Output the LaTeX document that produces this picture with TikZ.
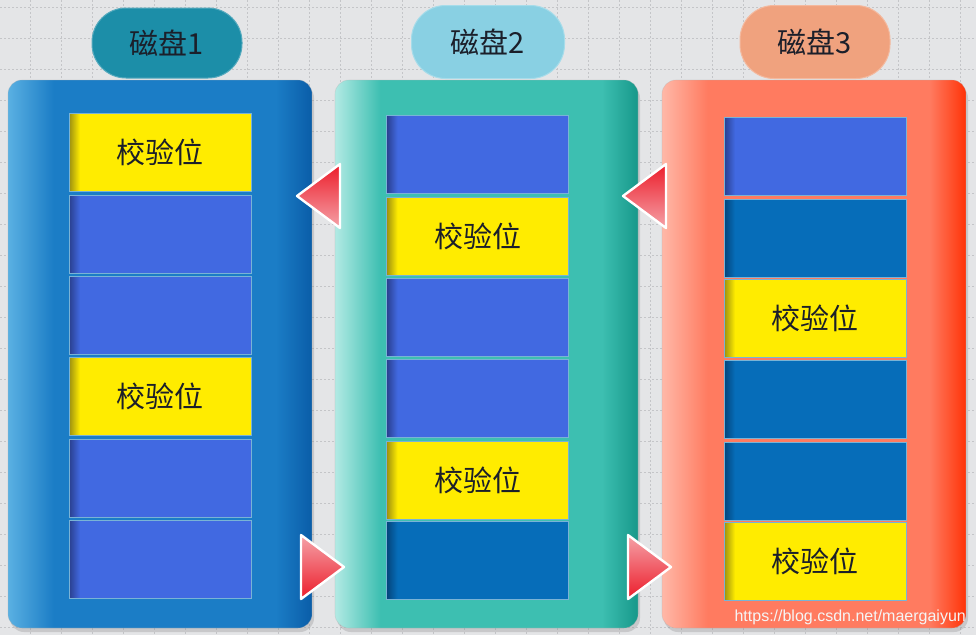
\documentclass[tikz,border=0pt]{standalone}
\usepackage{fontspec}
\newfontfamily\cjk{Noto Sans CJK SC}
\setsansfont{Liberation Sans}
\usetikzlibrary{shadows}
\definecolor{bggrey}{HTML}{E4E5E7}
\definecolor{gridc}{HTML}{C4C5C8}
\definecolor{royal}{HTML}{4169E1}\definecolor{royalD}{HTML}{2A3F8E}
\definecolor{dblue}{HTML}{066DB9}\definecolor{dblueD}{HTML}{04447A}
\definecolor{yel}{HTML}{FFEC00}\definecolor{yelD}{HTML}{9C8F10}
\definecolor{cellbd}{HTML}{79B3D6}
\definecolor{aL}{HTML}{5AB0E2}\definecolor{aM}{HTML}{1B7DC6}\definecolor{aR}{HTML}{0A5DA8}
\definecolor{bL}{HTML}{B2EAE4}\definecolor{bM}{HTML}{3DBFB1}\definecolor{bR}{HTML}{17988A}
\definecolor{cL}{HTML}{FFB8A8}\definecolor{cM}{HTML}{FF7B60}\definecolor{cR}{HTML}{FF3308}
\definecolor{pillA}{HTML}{1C8EA8}\definecolor{pillB}{HTML}{89D0E3}\definecolor{pillC}{HTML}{F0A27E}
\definecolor{txt}{HTML}{1B1F2A}
\definecolor{tred}{HTML}{EC1C2A}\definecolor{tpink}{HTML}{F5A2A8}
\pgfdeclarehorizontalshading{panA}{100bp}{color(0bp)=(aL); color(25bp)=(aL); color(32.5bp)=(aM); color(69bp)=(aM); color(75bp)=(aR); color(100bp)=(aR)}
\pgfdeclarehorizontalshading{panB}{100bp}{color(0bp)=(bL); color(25bp)=(bL); color(32.5bp)=(bM); color(69bp)=(bM); color(75bp)=(bR); color(100bp)=(bR)}
\pgfdeclarehorizontalshading{panC}{100bp}{color(0bp)=(cL); color(25bp)=(cL); color(32.5bp)=(cM); color(69bp)=(cM); color(75bp)=(cR); color(100bp)=(cR)}
\pgfdeclarehorizontalshading{cellR}{100bp}{color(0bp)=(royalD); color(25bp)=(royalD); color(28bp)=(royal); color(100bp)=(royal)}
\pgfdeclarehorizontalshading{cellD}{100bp}{color(0bp)=(dblueD); color(25bp)=(dblueD); color(28bp)=(dblue); color(100bp)=(dblue)}
\pgfdeclarehorizontalshading{cellY}{100bp}{color(0bp)=(yelD); color(25bp)=(yelD); color(28bp)=(yel); color(100bp)=(yel)}
\tikzset{
  panelbox/.style={rounded corners=14pt, shade, shading=#1, draw=white!40!gray, draw opacity=0.35, line width=0.6pt,
    drop shadow={opacity=0.28, shadow xshift=2pt, shadow yshift=-4pt},
    minimum width=304pt, minimum height=548pt},
  cellbox/.style={draw=cellbd, line width=1pt, shade, shading=#1, minimum width=182pt, minimum height=78pt,
    inner sep=0pt, font=\cjk\fontsize{29}{32}\selectfont, text=txt},
  pillbox/.style={rounded corners=34pt, fill=#1, draw=#1!75!white, line width=1pt,
    font=\cjk\fontsize{29}{32}\selectfont, text=txt, inner sep=0pt},
  tri/.style={draw=white, line width=2.4pt, line join=round}
}
\begin{document}
\begin{tikzpicture}[x=1pt,y=-1pt]
\useasboundingbox (0,0) rectangle (976,635);
\fill[bggrey] (0,0) rectangle (976,635);
\foreach \gx in {30,61,...,976} \draw[gridc, line width=0.6pt, dash pattern=on 2pt off 2pt] (\gx,0) -- (\gx,635);
\foreach \gy in {7,38,...,635} \draw[gridc, line width=0.6pt, dash pattern=on 2pt off 2pt] (0,\gy) -- (976,\gy);

% pills
\node[pillbox=pillA, minimum width=150pt, minimum height=70pt] (l1) at (167,43) {磁盘1};
\node[pillbox=pillB, minimum width=153pt, minimum height=73pt] (l2) at (488,42) {磁盘2};
\node[pillbox=pillC, minimum width=150pt, minimum height=73pt] (l3) at (815,42) {磁盘3};

% panels
\node[panelbox=panA] (p1) at (160,354) {};
\node[panelbox=panB, minimum width=303pt] (p2) at (486.5,354) {};
\node[panelbox=panC] (p3) at (814,354) {};

% disk 1 cells
\node[cellbox=cellY] (a1) at (160,152) {校验位};
\node[cellbox=cellR] (a2) at (160,234) {};
\node[cellbox=cellR] (a3) at (160,315) {};
\node[cellbox=cellY] (a4) at (160,396) {校验位};
\node[cellbox=cellR] (a5) at (160,478) {};
\node[cellbox=cellR] (a6) at (160,559) {};

% disk 2 cells
\node[cellbox=cellR] (b1) at (477.5,154) {};
\node[cellbox=cellY] (b2) at (477.5,236) {校验位};
\node[cellbox=cellR] (b3) at (477.5,317) {};
\node[cellbox=cellR] (b4) at (477.5,398) {};
\node[cellbox=cellY] (b5) at (477.5,480) {校验位};
\node[cellbox=cellD] (b6) at (477.5,560) {};

% disk 3 cells
\node[cellbox=cellR] (c1) at (815,156) {};
\node[cellbox=cellD] (c2) at (815,238) {};
\node[cellbox=cellY] (c3) at (815,318) {校验位};
\node[cellbox=cellD] (c4) at (815,399) {};
\node[cellbox=cellD] (c5) at (815,481) {};
\node[cellbox=cellY] (c6) at (815,561) {校验位};

% triangles
\shadedraw[tri, top color=tred, bottom color=tpink] (297,196) -- (340,164) -- (340,228) -- cycle;
\shadedraw[tri, top color=tred, bottom color=tpink] (623,196) -- (666,164) -- (666,228) -- cycle;
\shadedraw[tri, top color=tpink, bottom color=tred] (344,567) -- (301,535) -- (301,599) -- cycle;
\shadedraw[tri, top color=tpink, bottom color=tred] (671,567) -- (628,535) -- (628,599) -- cycle;

% watermark
\node[anchor=east, font=\sffamily\fontsize{16}{18}\selectfont, text=white!92!gray, inner sep=0pt] (wm) at (966,617) {https://blog.csdn.net/maergaiyun};
\end{tikzpicture}
\end{document}
